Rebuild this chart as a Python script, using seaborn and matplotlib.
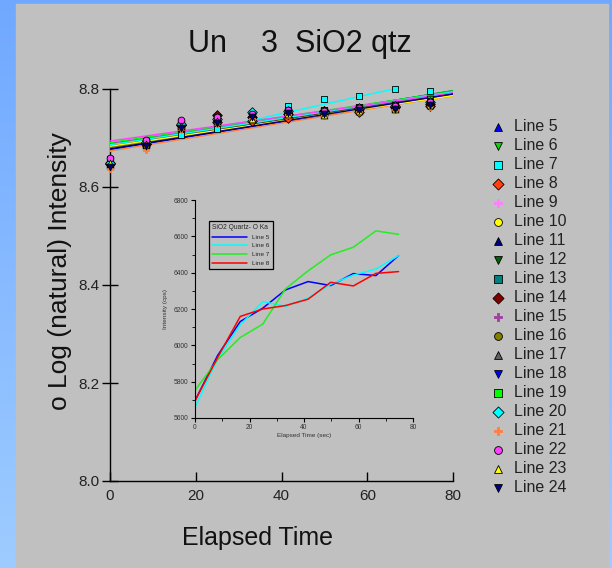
import numpy as np
import pandas as pd
import matplotlib
matplotlib.use("Agg")
import matplotlib.pyplot as plt
import seaborn as sns

sns.set_style("white")
plt.rcParams['font.family'] = ['Liberation Sans', 'DejaVu Sans']

# ---------------- data ----------------
times = [0, 8.3, 16.6, 24.9, 33.2, 41.5, 49.8, 58.1, 66.4, 74.7]

line_names = [f"Line {i}" for i in range(5, 25)]

# intensities (cps) for each line
line_5 = [5695, 5944, 6131, 6205, 6305, 6351, 6329, 6395, 6384, 6494]
line_6 = [5659, 5926, 6113, 6241, 6214, 6260, 6336, 6387, 6420, 6494]
line_7 = [5752, 5921, 6043, 6117, 6311, 6410, 6498, 6540, 6630, 6611]
line_8 = [5695, 5933, 6159, 6200, 6219, 6254, 6347, 6327, 6396, 6406]
line_9 = [5720, 5960, 6200, 6240, 6290, 6340, 6330, 6370, 6400, 6440]
line_10 = [5700, 5930, 6150, 6210, 6270, 6320, 6300, 6360, 6380, 6420]
line_11 = [5680, 5920, 6140, 6230, 6300, 6330, 6320, 6380, 6400, 6450]
line_12 = [5690, 5945, 6170, 6220, 6280, 6335, 6340, 6375, 6390, 6430]
line_13 = [5710, 5950, 6180, 6200, 6310, 6350, 6360, 6390, 6410, 6460]
line_14 = [5700, 5935, 6160, 6290, 6260, 6310, 6340, 6370, 6395, 6440]
line_15 = [5730, 5965, 6190, 6250, 6300, 6345, 6330, 6380, 6405, 6450]
line_16 = [5690, 5910, 6130, 6200, 6270, 6320, 6310, 6350, 6380, 6420]
line_17 = [5720, 5940, 6165, 6230, 6285, 6330, 6350, 6370, 6400, 6445]
line_18 = [5650, 5890, 6120, 6190, 6260, 6310, 6300, 6340, 6370, 6410]
line_19 = [5740, 5970, 6200, 6260, 6320, 6360, 6350, 6390, 6420, 6470]
line_20 = [5700, 5950, 6175, 6235, 6330, 6340, 6325, 6385, 6405, 6455]
line_21 = [5640, 5860, 6110, 6180, 6240, 6290, 6280, 6330, 6360, 6400]
line_22 = [5760, 5980, 6230, 6270, 6310, 6350, 6345, 6385, 6410, 6460]
line_23 = [5710, 5930, 6150, 6215, 6240, 6300, 6290, 6345, 6375, 6425]
line_24 = [5660, 5900, 6125, 6195, 6265, 6315, 6305, 6350, 6375, 6420]

all_lines = [line_5, line_6, line_7, line_8, line_9, line_10, line_11, line_12,
             line_13, line_14, line_15, line_16, line_17, line_18, line_19,
             line_20, line_21, line_22, line_23, line_24]

colors = ['#0000ff', '#10d010', '#00ffff', '#ff4010', '#ff80ff', '#ffff00',
          '#000080', '#006400', '#008080', '#800000', '#a040a0', '#808000',
          '#606060', '#0000ff', '#00ff00', '#00ffff', '#ff8040', '#ff40ff',
          '#ffff00', '#000080']
markers = ['^', 'v', 's', 'D', 'P', 'o'] * 3 + ['^', 'v']

inset_names = ["Line 5", "Line 6", "Line 7", "Line 8"]
inset_colors = ['#0000ff', '#00ffff', '#22ee22', '#ff0000']

title = "Un    3  SiO2 qtz"

# ---------------- figure ----------------
W, H = 612, 568
fig = plt.figure(figsize=(W / 100, H / 100), dpi=100)

# background gradient + gray panel
bg = fig.add_axes([0, 0, 1, 1], zorder=-10)
grad = np.linspace(0, 1, 256).reshape(-1, 1)
top = np.array([0.44, 0.66, 1.0])
bot = np.array([0.62, 0.80, 1.0])
img = top + (bot - top) * grad[:, :, None]
bg.imshow(img, aspect='auto', extent=[0, 1, 0, 1])
bg.add_patch(plt.Rectangle((16 / W, 0), (608 - 16) / W, 1 - 4 / H,
                           color='#c0c0c0', zorder=2))
bg.set_xlim(0, 1)
bg.set_ylim(0, 1)
bg.axis('off')

# main axes
ax = fig.add_axes([110 / W, 1 - 481 / H, (453 - 110) / W, (481 - 89) / H])
ax.set_facecolor('none')
ax.set_xlim(0, 80)
ax.set_ylim(8.0, 8.8)

handles = []
for name, vals, c, m in zip(line_names, all_lines, colors, markers):
    df = pd.DataFrame({"t": times, "v": np.log(vals)})
    ec = c if m == 'P' else 'black'
    sns.regplot(data=df, x="t", y="v", ax=ax, ci=None, truncate=False,
                marker=m, color=c,
                scatter_kws=dict(s=24, edgecolors=ec, linewidths=0.6,
                                 alpha=1, clip_on=False, zorder=4),
                line_kws=dict(lw=1.0, zorder=3))
    sc = ax.collections[-1]
    sc.set_label(name)
    handles.append(sc)

ax.set_xlabel("")
ax.set_ylabel("")
ax.set_xticks([0, 20, 40, 60, 80])
ax.set_yticks([8.0, 8.2, 8.4, 8.6, 8.8])
ax.set_yticklabels(["8.0", "8.2", "8.4", "8.6", "8.8"])
for s in ['top', 'right']:
    ax.spines[s].set_visible(False)
for s in ['left', 'bottom']:
    ax.spines[s].set_color('black')
    ax.spines[s].set_linewidth(1.0)
ax.tick_params(axis='y', direction='inout', length=11, width=1, color='black',
               labelsize=11, labelcolor='#222222', pad=2, left=True)
ax.tick_params(axis='x', direction='in', length=6.5, width=1, color='black',
               labelsize=11, labelcolor='#222222', pad=6, bottom=True)

fig.text(300 / W, 1 - 44 / H, title, ha='center', va='center', fontsize=22,
         color='#111111')
fig.text(60 / W, 1 - 271 / H, "o Log (natural) Intensity", ha='center',
         va='center', rotation=90, fontsize=19, color='#111111')
fig.text(258 / W, 1 - 538 / H, "Elapsed Time", ha='center', va='center',
         fontsize=18, color='#111111')

fig.legend(handles=handles, loc='upper left',
           bbox_to_anchor=(490 / W, 1 - 119 / H), frameon=False,
           fontsize=11.5, handlelength=1.0, handletextpad=0.5,
           labelspacing=0.25, borderpad=0, borderaxespad=0, scatterpoints=1,
           markerscale=1.15, labelcolor='#222222')

# inset
ins = fig.add_axes([195 / W, 1 - 418 / H, (413 - 195) / W, (418 - 200) / H])
ins.set_facecolor('none')
inset_data = [line_5, line_6, line_7, line_8]
for name, vals, c in zip(inset_names, inset_data, inset_colors):
    sns.lineplot(x=times, y=vals, ax=ins, color=c, lw=1.1, label=name)
ins.set_xlim(0, 80)
ins.set_ylim(5600, 6800)
ins.set_xticks([0, 20, 40, 60, 80])
ins.set_xticks([10, 30, 50, 70], minor=True)
ins.set_yticks(list(range(5600, 6801, 200)))
ins.set_yticks(list(range(5700, 6800, 200)), minor=True)
for s in ['top', 'right']:
    ins.spines[s].set_visible(False)
for s in ['left', 'bottom']:
    ins.spines[s].set_color('black')
    ins.spines[s].set_linewidth(0.8)
ins.tick_params(which='major', direction='out', length=3, width=0.8,
                labelsize=4.8, pad=1.5, color='black', labelcolor='#333333',
                left=True, bottom=True)
ins.tick_params(which='minor', direction='out', length=2, width=0.6,
                color='black', left=True, bottom=True)
ins.set_xlabel("Elapsed Time (sec)", fontsize=4.6, labelpad=1, color='#333333')
ins.set_ylabel("Intensity (cps)", fontsize=4.6, labelpad=4, color='#333333')
leg = ins.legend(loc='upper left', bbox_to_anchor=(0.064, 0.904),
                 title="SiO2 Quartz- O Ka", fontsize=4.6, title_fontsize=4.8,
                 handlelength=5.5, handletextpad=0.8, labelspacing=0.5,
                 borderaxespad=0, borderpad=0.5, fancybox=False,
                 edgecolor='black', facecolor='#c0c0c0', framealpha=1,
                 alignment='left')
leg.get_frame().set_linewidth(0.9)

fig.savefig("out.png", dpi=100)
